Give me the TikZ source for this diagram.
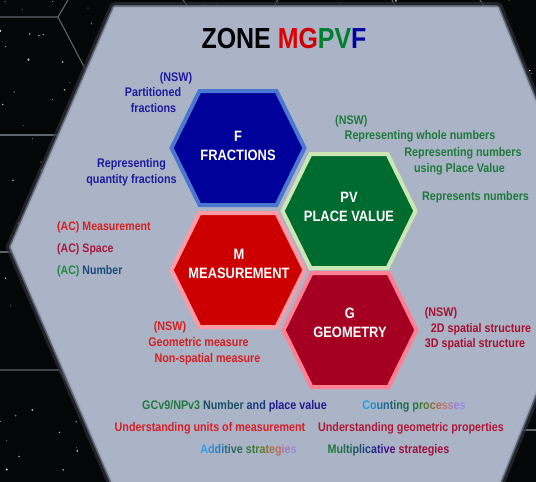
\documentclass[tikz,border=0pt]{standalone}
\usepackage{fontspec}
\setmainfont{Liberation Sans}[FakeStretch=0.86]
\definecolor{bgdark}{HTML}{050608}
\definecolor{gridc}{HTML}{5E646E}
\definecolor{panel}{HTML}{ABB4C7}
\definecolor{halo1}{HTML}{2C3036}
\definecolor{halo2}{HTML}{6A7080}
\definecolor{ffill}{HTML}{00009A}
\definecolor{fedge}{HTML}{4A78D0}
\definecolor{pvfill}{HTML}{006B2E}
\definecolor{pvedge}{HTML}{CDE6B5}
\definecolor{mfill}{HTML}{CC0000}
\definecolor{medge}{HTML}{FF9AA5}
\definecolor{gfill}{HTML}{A50022}
\definecolor{gedge}{HTML}{FF8090}
\definecolor{tm}{HTML}{E00000}
\definecolor{tg}{HTML}{CC0000}
\definecolor{tp}{HTML}{007F30}
\definecolor{tf}{HTML}{0000A0}
\definecolor{fblue}{HTML}{1C1C9C}
\definecolor{pvgreen}{HTML}{1E7A3C}
\definecolor{mred}{HTML}{D42020}
\definecolor{gcrim}{HTML}{A81030}
\definecolor{acgreen}{HTML}{1E8A40}
\definecolor{acnum}{HTML}{1A4A78}
\definecolor{acspace}{HTML}{A81840}
\definecolor{unitred}{HTML}{D81E28}
\definecolor{geocrim}{HTML}{B01838}
\newcommand\cl[2]{\textcolor[HTML]{#1}{#2}}
\begin{document}
\begin{tikzpicture}[x=1pt,y=-1pt,
  lbl/.style={anchor=base,inner sep=0pt,font=\fontsize{12.5}{15}\selectfont\bfseries},
  lblw/.style={anchor=base west,inner sep=0pt,font=\fontsize{12.5}{15}\selectfont\bfseries},
  aclbl/.style={anchor=base west,inner sep=0pt,font=\fontsize{12.3}{14}\selectfont\bfseries},
  hextext/.style={align=center,text=white,inner sep=0pt,font=\fontsize{15}{19}\selectfont\bfseries},
  pics/hexa/.style={code={\path[#1] (-66.5,0)--(-38.5,-57)--(38.5,-57)--(66.5,0)--(38.5,57)--(-38.5,57)--cycle;}}
]
\useasboundingbox (0,0) rectangle (536,482);
\clip (0,0) rectangle (536,482);
% background
\fill[bgdark] (0,0) rectangle (536,482);
\pgfmathsetseed{11}
\foreach \i in {1,...,300}{
  \pgfmathsetmacro\sx{rnd*536}
  \pgfmathsetmacro\sy{rnd*482}
  \pgfmathsetmacro\sr{0.35+rnd*0.9}
  \pgfmathsetmacro\so{0.4+rnd*0.6}
  \fill[white,opacity=\so] (\sx,\sy) circle[radius=\sr pt];
}
\begin{scope}[draw=gridc,line width=1.1pt]
  \draw (0,17)--(58,17)--(68,0);
  \draw (58,17)--(92,82);
  \draw (0,135)--(64,135);
  \draw (0,252)--(20,252);
  \draw (0,370)--(60,370)--(96,440);
  \draw (183,0)--(190,9);
  \draw (278,0)--(272,9);
  \draw (392,0)--(397,9);
  \draw (480,0)--(486,9);
  \draw (515,430)--(536,430);
  \draw (520,100)--(536,100);
\end{scope}
% big panel
\coordinate (p1) at (115,8); \coordinate (p2) at (497,8); \coordinate (p3) at (593,247);
\coordinate (p4) at (497,487); \coordinate (p5) at (115,487); \coordinate (p6) at (12,247);
\draw[halo1,line width=12pt,line join=round,opacity=0.7] (p1)--(p2)--(p3)--(p4)--(p5)--(p6)--cycle;
\draw[halo2,line width=6pt,line join=round,opacity=0.8] (p1)--(p2)--(p3)--(p4)--(p5)--(p6)--cycle;
\draw[panel!80!halo2,line width=3pt,line join=round] (p1)--(p2)--(p3)--(p4)--(p5)--(p6)--cycle;
\fill[panel] (p1)--(p2)--(p3)--(p4)--(p5)--(p6)--cycle;
% title
\node[anchor=base,inner sep=0pt,font=\fontsize{29}{32}\selectfont\bfseries] (title) at (284,48.5)
  {ZONE \textcolor{tm}{M}\textcolor{tg}{G}\textcolor{tp}{PV}\textcolor{tf}{F}};
% hexagons
\pic at (238,148) {hexa={fill=ffill,draw=fedge,line width=4pt}};
\pic at (349,211) {hexa={fill=pvfill,draw=pvedge,line width=4pt}};
\pic at (238,270) {hexa={fill=mfill,draw=medge,line width=4pt}};
\pic at (350,330) {hexa={fill=gfill,draw=gedge,line width=4pt}};
\node[hextext] (F) at (238,146) {F\\FRACTIONS};
\node[hextext] (PV) at (349,207) {PV\\PLACE VALUE};
\node[hextext] (M) at (239,264) {M\\MEASUREMENT};
\node[hextext] (G) at (350,322.5) {G\\GEOMETRY};
% F labels
\node[lbl,text=fblue] (f1) at (176,81.5) {(NSW)};
\node[lbl,text=fblue] (f2) at (153,96.5) {Partitioned};
\node[lbl,text=fblue] (f3) at (153.5,112.5) {fractions};
\node[lbl,text=fblue] (f4) at (131.5,167.5) {Representing};
\node[lbl,text=fblue] (f5) at (131.5,183.5) {quantity fractions};
% AC labels
\node[aclbl,text=mred] (a1) at (57,230.4) {(AC) Measurement};
\node[aclbl,text=acspace] (a2) at (57,252.4) {(AC) Space};
\node[aclbl] (a3) at (57,274.4) {\textcolor{acgreen}{(AC)} \textcolor{acnum}{Number}};
% PV labels
\node[lblw,text=pvgreen] (v1) at (335,124.5) {(NSW)};
\node[lbl,text=pvgreen] (v2) at (420,139.5) {Representing whole numbers};
\node[lbl,text=pvgreen] (v3) at (463,156.5) {Representing numbers};
\node[lbl,text=pvgreen] (v4) at (459.5,172.5) {using Place Value};
\node[lbl,text=pvgreen] (v5) at (475.5,200.5) {Represents numbers};
% M NSW labels
\node[lbl,text=mred] (m1) at (170,330.5) {(NSW)};
\node[lbl,text=mred] (m2) at (198.5,346.5) {Geometric measure};
\node[lbl,text=mred] (m3) at (207.5,362.5) {Non-spatial measure};
% G labels
\node[lbl,text=gcrim] (g1) at (441,316.5) {(NSW)};
\node[lbl,text=gcrim] (g2) at (481,332.5) {2D spatial structure};
\node[lbl,text=gcrim] (g3) at (475,347.5) {3D spatial structure};
% bottom
\node[lbl] (b1) at (234.5,409.5) {\cl{1E7A40}{GCv9/NPv3} \cl{1A5068}{Number} \cl{1A3A80}{and} \cl{1C1C90}{place value}};
\node[lbl] (b2) at (414,409.5) {\cl{1EA0E8}{C}\cl{1A90D0}{o}\cl{1A78A8}{u}\cl{1A6488}{n}\cl{1A6070}{t}\cl{1A6A60}{i}\cl{1A6A50}{n}\cl{1A7048}{g} \cl{2A7A38}{p}\cl{3A7A30}{r}\cl{5A7A30}{o}\cl{8A7038}{c}\cl{B07048}{e}\cl{C07A70}{s}\cl{B080A8}{s}\cl{A080D0}{e}\cl{9A88F0}{s}};
\node[lbl,text=unitred] (b3) at (210,431.5) {Understanding units of measurement};
\node[lbl,text=geocrim] (b4) at (411,431.5) {Understanding geometric properties};
\node[lbl] (b5) at (248.5,453.5) {\cl{30A0E8}{A}\cl{2A90D0}{d}\cl{2A80C0}{d}\cl{2A70A0}{i}\cl{2A6A80}{t}\cl{2A6A70}{i}\cl{2A6A60}{v}\cl{2A6A50}{e} \cl{3A7A40}{s}\cl{3A7A38}{t}\cl{4A7A30}{r}\cl{6A7A30}{a}\cl{8A7A38}{t}\cl{A87048}{e}\cl{B87060}{g}\cl{B07890}{i}\cl{A080C0}{e}\cl{9A88E8}{s}};
\node[lbl] (b6) at (388.5,453.5) {\cl{1E7A3A}{M}\cl{1E7440}{u}\cl{1E6E48}{l}\cl{1E6850}{t}\cl{1E6058}{i}\cl{1E5860}{p}\cl{1E5068}{l}\cl{1E4670}{i}\cl{1E3A80}{c}\cl{1E2A8C}{a}\cl{2A1C8C}{t}\cl{3A1488}{i}\cl{481080}{v}\cl{56107A}{e} \cl{A01040}{strategies}};
\end{tikzpicture}
\end{document}
